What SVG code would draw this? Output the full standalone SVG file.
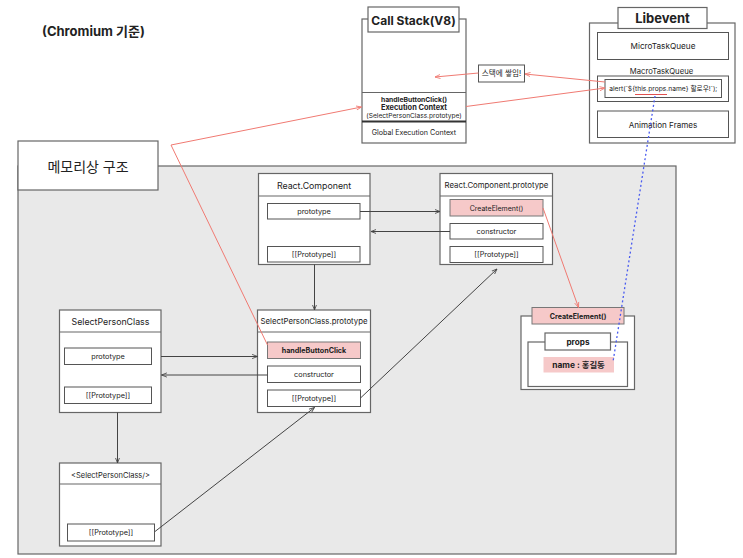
<svg xmlns="http://www.w3.org/2000/svg" width="743" height="558" viewBox="0 0 743 558">
<defs>
<style>
text{font-family:Inter,"Noto Sans CJK KR",sans-serif;fill:#222;text-anchor:middle;dominant-baseline:central}
.box{fill:#fff;stroke:#666;stroke-width:1.2}
.sub{fill:#fff;stroke:#555;stroke-width:1}
.pink{fill:#f6c9c9;stroke:#777;stroke-width:1}
.hd{stroke:#666;stroke-width:1.2}
.t11{font-size:8.8px}
.t10{font-size:7.8px}
.t9{font-size:7.3px}
.b{font-weight:700}
.blk{fill:none;stroke:#444;stroke-width:1}
.red{fill:none;stroke:#f07a72;stroke-width:1}
</style>
<marker id="ab" viewBox="0 0 10 10" refX="9" refY="5" markerWidth="6" markerHeight="6" orient="auto"><path d="M0,1.5 L9,5 L0,8.5" fill="none" stroke="#444" stroke-width="1.4"/></marker>
<marker id="ar" viewBox="0 0 10 10" refX="9" refY="5" markerWidth="6" markerHeight="6" orient="auto"><path d="M0,1.5 L9,5 L0,8.5" fill="none" stroke="#f07a72" stroke-width="1.4"/></marker>
</defs>
<rect width="743" height="558" fill="#fff"/>

<text x="42" y="31" style="text-anchor:start;font-size:13px" class="b">(Chromium 기준)</text>

<g id="memory-area">
<rect x="18" y="166" width="658" height="388" fill="#e9e9e9" stroke="#666" stroke-width="1.2"/>
<rect x="18" y="141" width="140" height="49" class="box"/>
<text x="88" y="166" style="font-size:14px">메모리상 구조</text>
</g>

<g id="call-stack">
<rect x="362" y="19" width="104" height="124" class="box"/>
<rect x="368" y="7" width="91" height="25" class="box"/>
<text x="413.5" y="20" style="font-size:12px" class="b">Call Stack(V8)</text>
<line x1="362" y1="92.5" x2="466" y2="92.5" class="hd"/>
<line x1="362" y1="121.5" x2="466" y2="121.5" stroke="#333" stroke-width="2"/>
<text x="414" y="99.5" style="font-size:6.8px" class="b">handleButtonClick()</text>
<text x="414" y="107.5" style="font-size:7.4px" class="b">Execution Context</text>
<text x="414" y="115.5" style="font-size:6.6px">(SelectPersonClass.prototype)</text>
<text x="414" y="132" style="font-size:7.1px">Global Execution Context</text>
</g>

<g id="stack-note">
<rect x="478.5" y="65" width="46" height="17" class="sub"/>
<text x="501.5" y="73.5" style="font-size:7.6px">스택에 쌓임!</text>
</g>

<g id="libevent">
<rect x="589.5" y="23" width="145.5" height="120" class="box"/>
<rect x="618" y="7.5" width="89" height="21" class="box"/>
<text x="662.5" y="18" style="font-size:13px" class="b">Libevent</text>
<rect x="597.5" y="32.5" width="131" height="27" class="sub"/>
<text x="663" y="46" style="font-size:8.2px">MicroTaskQueue</text>
<text x="661.5" y="71" style="font-size:7.7px">MacroTaskQueue</text>
<rect x="597.5" y="76" width="131" height="25.5" class="sub"/>
<rect x="605" y="79.5" width="116.5" height="18" class="sub"/>
<text x="663.3" y="88.5" style="font-size:6.7px">alert(`${this.props.name} 할로우!`);</text>
<line x1="635" y1="94.5" x2="667" y2="94.5" stroke="#e05050" stroke-width="1"/>
<rect x="597.5" y="111" width="131" height="26.5" class="sub"/>
<text x="663" y="124.5" style="font-size:8.1px">Animation Frames</text>
</g>

<g id="react-component">
<rect x="258.5" y="173.5" width="111.5" height="91" class="box"/>
<line x1="258.5" y1="196" x2="370" y2="196" class="hd"/>
<text x="314" y="185" class="t11">React.Component</text>
<rect x="267.5" y="203.5" width="92.5" height="15.5" class="sub"/>
<text x="314" y="211.5" class="t9">prototype</text>
<rect x="267.5" y="246.5" width="92.5" height="15.5" class="sub"/>
<text x="314" y="254.5" class="t9">[[Prototype]]</text>
</g>

<g id="react-component-prototype">
<rect x="440" y="173.5" width="112.5" height="91" class="box"/>
<line x1="440" y1="196" x2="552.5" y2="196" class="hd"/>
<text x="496.5" y="185" class="t10">React.Component.prototype</text>
<rect x="450" y="199.5" width="93" height="16.5" class="pink"/>
<text x="496.5" y="208" style="font-size:7px">CreateElement()</text>
<rect x="450" y="223.5" width="93" height="15.5" class="sub"/>
<text x="496.5" y="231.5" class="t9">constructor</text>
<rect x="450" y="246.5" width="93" height="16" class="sub"/>
<text x="496.5" y="254.5" class="t9">[[Prototype]]</text>
</g>

<g id="select-person-class">
<rect x="59.5" y="310" width="101.5" height="102.5" class="box"/>
<line x1="59.5" y1="332" x2="161" y2="332" class="hd"/>
<text x="110.5" y="321" class="t11">SelectPersonClass</text>
<rect x="64.5" y="348" width="87" height="16.5" class="sub"/>
<text x="108" y="356.5" class="t9">prototype</text>
<rect x="64.5" y="387" width="87" height="16.5" class="sub"/>
<text x="108" y="395" class="t9">[[Prototype]]</text>
</g>

<g id="select-person-class-prototype">
<rect x="257.5" y="310" width="113" height="102.5" class="box"/>
<line x1="257.5" y1="332" x2="370.5" y2="332" class="hd"/>
<text x="314" y="321" class="t10">SelectPersonClass.prototype</text>
<rect x="267.5" y="342" width="93" height="16.5" class="pink"/>
<text x="314" y="350.5" style="font-size:7.2px" class="b">handleButtonClick</text>
<rect x="267.5" y="366" width="93" height="16.5" class="sub"/>
<text x="314" y="374.5" class="t9">constructor</text>
<rect x="267.5" y="390" width="93" height="16.5" class="sub"/>
<text x="314" y="398.5" class="t9">[[Prototype]]</text>
</g>

<g id="select-person-instance">
<rect x="59.5" y="463" width="101.5" height="83" class="box"/>
<line x1="59.5" y1="484" x2="161" y2="484" class="hd"/>
<text x="110.5" y="475" style="font-size:7.5px">&lt;SelectPersonClass/&gt;</text>
<rect x="67.5" y="524" width="87" height="17" class="sub"/>
<text x="111" y="532.5" class="t9">[[Prototype]]</text>
</g>

<g id="created-element">
<rect x="521" y="316" width="113.5" height="73.5" class="box"/>
<rect x="528" y="342" width="99.5" height="44.5" class="box"/>
<rect x="545" y="333" width="65.5" height="17" class="box"/>
<text x="578" y="341.5" style="font-size:8.2px" class="b">props</text>
<rect x="543.5" y="357" width="70.5" height="15.5" fill="#f6c9c9"/>
<text x="578.5" y="365" style="font-size:8.4px" class="b">name : 홍길동</text>
<rect x="532" y="307.5" width="92" height="16.5" class="pink"/>
<text x="578" y="316" style="font-size:7.1px" class="b">CreateElement()</text>
</g>

<g id="connectors">
<line x1="360" y1="211.5" x2="440" y2="211.5" class="blk" marker-end="url(#ab)"/>
<line x1="450" y1="231.5" x2="371" y2="231.5" class="blk" marker-end="url(#ab)"/>
<line x1="314.5" y1="264.5" x2="314.5" y2="310" class="blk" marker-end="url(#ab)"/>
<line x1="161" y1="356.5" x2="257.5" y2="356.5" class="blk" marker-end="url(#ab)"/>
<line x1="267.5" y1="375" x2="161.5" y2="375" class="blk" marker-end="url(#ab)"/>
<line x1="117.5" y1="412.5" x2="117.5" y2="463" class="blk" marker-end="url(#ab)"/>
<line x1="360.5" y1="398" x2="497" y2="269" class="blk" marker-end="url(#ab)"/>
<line x1="155" y1="531.5" x2="314.5" y2="407.5" class="blk" marker-end="url(#ab)"/>
<polyline points="267.5,345 171,145 361.5,107" class="red" marker-end="url(#ar)"/>
<line x1="543" y1="208" x2="578.5" y2="307.5" class="red" marker-end="url(#ar)"/>
<line x1="478.5" y1="73" x2="435" y2="77" class="red" marker-end="url(#ar)"/>
<line x1="605" y1="82" x2="525" y2="74" class="red" marker-end="url(#ar)"/>
<line x1="466" y1="106.5" x2="605" y2="88" class="red" marker-end="url(#ar)"/>
<line x1="655" y1="96" x2="613" y2="362" fill="none" stroke="#4a5cf0" stroke-width="1.3" stroke-dasharray="2,2.5"/>
</g>
</svg>
